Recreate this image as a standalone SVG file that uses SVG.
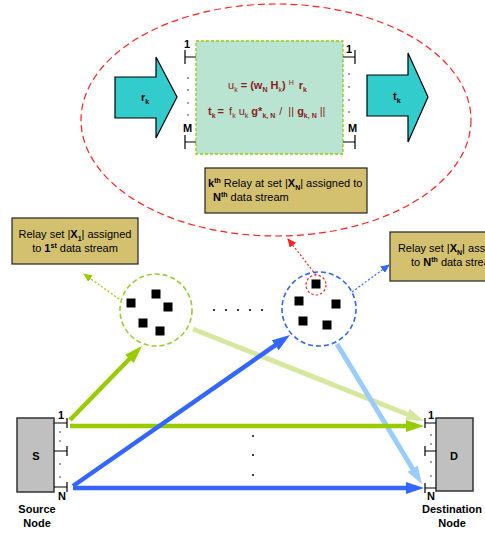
<svg xmlns="http://www.w3.org/2000/svg" width="485" height="534" viewBox="0 0 485 534">
<style>
text{font-family:"Liberation Sans",Arial,sans-serif;}
.lbl{font-size:11px;fill:#000;}
.b{font-weight:bold;}
.port{stroke:#000;stroke-width:1.2;fill:none;}
.tan{fill:#d4c170;stroke:#222;stroke-width:1.2;}
.node{fill:#c0c0c0;stroke:#333;stroke-width:1.5;}
.sq{fill:#000;}
.fm{font-size:11px;fill:#8b1c1c;}
.sm{font-size:7px;}
.dot{font-size:10px;fill:#000;}
</style>
<defs>
<marker id="mG" markerUnits="userSpaceOnUse" markerWidth="18" markerHeight="12" refX="10" refY="6" orient="auto"><path d="M0,0 L18,6 L0,12 Z" fill="#99cc00"/></marker>
<marker id="mLG" markerUnits="userSpaceOnUse" markerWidth="18" markerHeight="12" refX="10" refY="6" orient="auto"><path d="M0,0 L18,6 L0,12 Z" fill="#d6e8a0"/></marker>
<marker id="mB" markerUnits="userSpaceOnUse" markerWidth="18" markerHeight="12" refX="10" refY="6" orient="auto"><path d="M0,0 L18,6 L0,12 Z" fill="#3366ff"/></marker>
<marker id="mLB" markerUnits="userSpaceOnUse" markerWidth="18" markerHeight="12" refX="10" refY="6" orient="auto"><path d="M0,0 L18,6 L0,12 Z" fill="#99ccff"/></marker>
<marker id="sG" markerUnits="userSpaceOnUse" markerWidth="9" markerHeight="8" refX="8" refY="4" orient="auto"><path d="M0,0 L9,4 L0,8 Z" fill="#99cc00"/></marker>
<marker id="sR" markerUnits="userSpaceOnUse" markerWidth="9" markerHeight="8" refX="8" refY="4" orient="auto"><path d="M0,0 L9,4 L0,8 Z" fill="#ff2222"/></marker>
<marker id="sB" markerUnits="userSpaceOnUse" markerWidth="9" markerHeight="8" refX="8" refY="4" orient="auto"><path d="M0,0 L9,4 L0,8 Z" fill="#3366ff"/></marker>
</defs>

<!-- relay zoom ellipse -->
<g id="zoom-ellipse">
<ellipse cx="276" cy="120" rx="195" ry="116" fill="none" stroke="#ff2222" stroke-width="1.2" stroke-dasharray="7,4"/>
</g>

<g id="input-arrow">
<path d="M115,77 L156,77 L156,57 L177,97 L156,138 L156,118 L115,118 Z" fill="#33cccc" stroke="#000" stroke-width="1.2"/>
<text class="lbl b" x="141" y="101">r<tspan class="sm" dy="3">k</tspan></text>
</g>

<g id="output-arrow">
<path d="M367,75 L408,75 L408,53 L428,97 L408,142 L408,116 L367,116 Z" fill="#33cccc" stroke="#000" stroke-width="1.2"/>
<text class="lbl b" x="393" y="100">t<tspan class="sm" dy="3">k</tspan></text>
</g>

<g id="relay-processor">
<rect x="196" y="41" width="147" height="113" fill="#bae4d2" stroke="#99cc00" stroke-width="1.3" stroke-dasharray="3,2"/>
<path class="port" d="M185,57 H196 M185,50 V64 M185,142 H196 M185,135 V149 M343,57 H355 M355,50 V64 M343,142 H355 M355,135 V149"/>
<text class="lbl b" x="184" y="48" font-size="10">1</text>
<text class="lbl b" x="183" y="132" font-size="10">M</text>
<text class="lbl b" x="346" y="53" font-size="10">1</text>
<text class="lbl b" x="348" y="132" font-size="10">M</text>
<g fill="#000"><circle cx="188" cy="78" r="0.7"/><circle cx="188" cy="90" r="0.7"/><circle cx="188" cy="103" r="0.7"/><circle cx="188" cy="115" r="0.7"/>
<circle cx="349" cy="74" r="0.7"/><circle cx="349" cy="87" r="0.7"/><circle cx="349" cy="100" r="0.7"/><circle cx="349" cy="112" r="0.7"/></g>
<text class="fm" x="228" y="89">u<tspan class="sm" dy="3">k</tspan><tspan class="b" dy="-3"> = (w</tspan><tspan class="sm b" dy="3">N</tspan><tspan class="b" dy="-3"> H</tspan><tspan class="sm" dy="3">k</tspan><tspan class="b" dy="-3">)</tspan><tspan class="sm" dx="3" dy="-4">H</tspan><tspan class="b" dx="5" dy="4">r</tspan><tspan class="sm b" dy="3">k</tspan></text>
<text class="fm" x="208" y="115"><tspan class="b">t</tspan><tspan class="sm b" dy="3">k</tspan><tspan class="b" dy="-3" dx="2">= </tspan><tspan dx="2">f</tspan><tspan class="sm" dy="3">k</tspan><tspan dy="-3"> u</tspan><tspan class="sm" dy="3">k</tspan><tspan class="b" dy="-3"> g*</tspan><tspan class="sm b" dy="3">k, N</tspan><tspan dy="-3" dx="4">/ </tspan><tspan dx="3">|| </tspan><tspan class="b">g</tspan><tspan class="sm b" dy="3">k, N</tspan><tspan dy="-3"> ||</tspan></text>
</g>

<g id="kth-relay-box">
<rect class="tan" x="205" y="168" width="162" height="45"/>
<text class="lbl" x="208" y="187"><tspan class="b">k</tspan><tspan class="sm b" dy="-4">th</tspan><tspan dy="4"> Relay at set |</tspan><tspan class="b">X</tspan><tspan class="sm b" dy="3">N</tspan><tspan dy="-3">| assigned to</tspan></text>
<text class="lbl" x="213" y="201"><tspan class="b">N</tspan><tspan class="sm b" dy="-4">th</tspan><tspan dy="4"> data stream</tspan></text>
</g>

<g id="relay-set-1-box">
<rect class="tan" x="12" y="218" width="126" height="46"/>
<text class="lbl" x="75" y="238" text-anchor="middle">Relay set  |<tspan class="b">X</tspan><tspan class="sm b" dy="3">1</tspan><tspan dy="-3">| assigned</tspan></text>
<text class="lbl" x="75" y="252" text-anchor="middle">to <tspan class="b">1</tspan><tspan class="sm b" dy="-4">st</tspan><tspan dy="4">  data stream</tspan></text>
</g>

<g id="relay-set-N-box">
<rect class="tan" x="390" y="232" width="126" height="49"/>
<text class="lbl" x="455" y="252" text-anchor="middle">Relay set  |<tspan class="b">X</tspan><tspan class="sm b" dy="3">N</tspan><tspan dy="-3">| assigned</tspan></text>
<text class="lbl" x="455" y="266" text-anchor="middle">to <tspan class="b">N</tspan><tspan class="sm b" dy="-4">th</tspan><tspan dy="4">  data stream</tspan></text>
</g>

<g id="relay-set-1">
<circle cx="156" cy="310" r="36" fill="none" stroke="#99cc33" stroke-width="1.6" stroke-dasharray="5,3"/>
<rect class="sq" x="126.5" y="298.5" width="9" height="9"/>
<rect class="sq" x="151.5" y="289.5" width="9" height="9"/>
<rect class="sq" x="163.5" y="302.5" width="9" height="9"/>
<rect class="sq" x="138.5" y="318.5" width="9" height="9"/>
<rect class="sq" x="155.5" y="326.5" width="9" height="9"/>
</g>

<g id="relay-dots">
<g fill="#000"><circle cx="214" cy="310" r="1"/><circle cx="226" cy="310" r="1"/><circle cx="238" cy="310" r="1"/><circle cx="250" cy="310" r="1"/><circle cx="262" cy="310" r="1"/></g>
</g>

<g id="relay-set-N">
<circle cx="319" cy="309" r="37" fill="none" stroke="#3366ee" stroke-width="1.6" stroke-dasharray="5,3"/>
<circle cx="316" cy="285" r="10" fill="none" stroke="#ff2222" stroke-width="1.2" stroke-dasharray="2.5,2"/>
<rect class="sq" x="311.5" y="279.5" width="9" height="9"/>
<rect class="sq" x="294.5" y="296.5" width="9" height="9"/>
<rect class="sq" x="331.5" y="299.5" width="9" height="9"/>
<rect class="sq" x="298.5" y="316.5" width="9" height="9"/>
<rect class="sq" x="322.5" y="320.5" width="9" height="9"/>
</g>

<g id="source-node">
<rect class="node" x="17" y="418" width="37" height="74"/>
<text class="lbl b" x="36" y="460" text-anchor="middle" font-size="12">S</text>
<path class="port" d="M54,423 H67 M67,418 V428 M54,451 H67 M67,446 V456 M54,487 H67 M67,482 V492"/>
<text class="lbl b" x="58" y="419" font-size="9">1</text>
<text class="lbl b" x="58" y="500" font-size="9">N</text>
<g fill="#000"><circle cx="60" cy="432" r="0.7"/><circle cx="60" cy="441" r="0.7"/><circle cx="60" cy="464" r="0.7"/><circle cx="60" cy="477" r="0.7"/></g>
<text class="lbl b" x="37" y="513" text-anchor="middle">Source</text>
<text class="lbl b" x="37" y="527" text-anchor="middle">Node</text>
</g>

<g id="destination-node">
<rect class="node" x="436" y="418" width="37" height="73"/>
<text class="lbl b" x="454" y="460" text-anchor="middle" font-size="12">D</text>
<path class="port" d="M425,423 H436 M425,418 V428 M425,451 H436 M425,446 V456 M425,488 H436 M425,483 V493"/>
<text class="lbl b" x="428" y="419" font-size="9">1</text>
<text class="lbl b" x="427" y="500" font-size="9">N</text>
<g fill="#000"><circle cx="431" cy="435" r="0.7"/><circle cx="431" cy="444" r="0.7"/><circle cx="431" cy="462" r="0.7"/><circle cx="431" cy="476" r="0.7"/></g>
<text class="lbl b" x="452" y="513" text-anchor="middle">Destination</text>
<text class="lbl b" x="452" y="527" text-anchor="middle">Node</text>
</g>

<g id="connectors" fill="none">
<line x1="193" y1="329" x2="416.6" y2="418" stroke="#d6e8a0" stroke-width="5" marker-end="url(#mLG)"/>
<line x1="337" y1="344" x2="417.8" y2="477.2" stroke="#99ccff" stroke-width="5" marker-end="url(#mLB)"/>
<line x1="70" y1="426" x2="416" y2="426" stroke="#99cc00" stroke-width="4.5" marker-end="url(#mG)"/>
<line x1="70" y1="420" x2="136.4" y2="351.7" stroke="#99cc00" stroke-width="4.5" marker-end="url(#mG)"/>
<line x1="73" y1="488" x2="416" y2="488" stroke="#3366ff" stroke-width="4.5" marker-end="url(#mB)"/>
<line x1="73" y1="486" x2="283.4" y2="339.6" stroke="#3366ff" stroke-width="4.5" marker-end="url(#mB)"/>
<line x1="119" y1="299" x2="84" y2="274" stroke="#99cc00" stroke-width="1.2" stroke-dasharray="2,2" marker-end="url(#sG)"/>
<line x1="316" y1="275" x2="288" y2="239" stroke="#ff2222" stroke-width="1.2" stroke-dasharray="2,2" marker-end="url(#sR)"/>
<line x1="352" y1="292" x2="389" y2="265" stroke="#3366ff" stroke-width="1.2" stroke-dasharray="2,2" marker-end="url(#sB)"/>
<g fill="#000"><circle cx="253" cy="436" r="1"/><circle cx="253" cy="455" r="1"/><circle cx="253" cy="475" r="1"/></g>
</g>
</svg>
